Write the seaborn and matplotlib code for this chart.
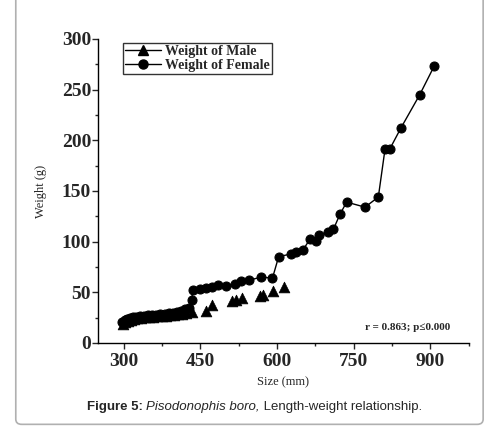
import matplotlib
matplotlib.use('Agg')
import matplotlib.pyplot as plt
from matplotlib.lines import Line2D
from matplotlib.patches import FancyBboxPatch
from matplotlib.ticker import MultipleLocator
import seaborn as sns

# length (mm) and weight (g)
female_size = [297, 302, 307, 312, 318, 325, 332, 340, 348, 356, 364, 372, 380, 388, 396,
               404, 412, 420, 428, 433, 435, 449, 461, 472, 485, 500, 517, 530, 546, 569,
               591, 603, 628, 637, 651, 665, 676, 681, 699, 710, 723, 736, 772, 798, 811,
               820, 842, 879, 907]
female_weight = [21, 23, 24, 25, 25.5, 26, 26.5, 27, 27.5, 28, 28, 28.5, 29, 29.5, 30,
                 31, 32, 33, 34, 42, 52, 53, 54, 55, 57, 56, 58, 61, 62, 65,
                 64, 85, 88, 90, 92, 103, 101, 107, 109, 112, 127, 139, 134, 144, 191,
                 191, 212, 245, 273]

male_size = [298, 303, 308, 314, 320, 327, 334, 342, 350, 358, 366, 374, 382, 390, 398,
             406, 414, 422, 433, 461, 473, 511, 520, 532, 566, 572, 592, 614]
male_weight = [19, 21, 22, 23, 24, 24.5, 25, 25.5, 26, 26, 26.5, 27, 27, 27.5, 28,
               28.5, 29, 29.5, 31, 32, 37, 41, 42, 44, 46, 47, 51, 55]

x_ticks = [300, 450, 600, 750, 900]
y_ticks = [0, 50, 100, 150, 200, 250, 300]

sns.set_style('ticks')
plt.rcParams['font.family'] = ['Liberation Serif', 'DejaVu Serif']

fig = plt.figure(figsize=(4.93, 4.33), dpi=100)
ax = fig.add_axes([0.199, 0.208, 0.752, 0.702])

sns.lineplot(x=female_size, y=female_weight, ax=ax, color='black', linewidth=1.0,
             marker='o', markersize=6.5, markeredgecolor='black', markerfacecolor='black')
sns.scatterplot(x=male_size, y=male_weight, ax=ax, color='black', marker='^', s=60,
                edgecolor='black', linewidth=0.5, zorder=3)

ax.set_xlim(250, 975)
ax.set_ylim(0, 300)
ax.set_xticks(x_ticks)
ax.set_yticks(y_ticks)
ax.xaxis.set_minor_locator(MultipleLocator(75))
ax.yaxis.set_minor_locator(MultipleLocator(25))
ax.tick_params(which='major', direction='out', length=4, width=1, labelsize=14, pad=1)
ax.tick_params(axis='x', which='major', pad=3)
ax.tick_params(which='minor', direction='out', length=2.5, width=1)
for lab in ax.get_xticklabels() + ax.get_yticklabels():
    lab.set_fontweight('bold')
sns.despine(ax=ax)
for sp in ax.spines.values():
    sp.set_linewidth(1.0)
    sp.set_color('black')

ax.set_xlabel('Size (mm)', fontsize=9, labelpad=5)
ax.set_ylabel('Weight (g)', fontsize=9, labelpad=11)

handles = [Line2D([], [], color='black', marker='^', markersize=7, linewidth=1),
           Line2D([], [], color='black', marker='o', markersize=6.5, linewidth=1)]
leg = ax.legend(handles, ['Weight of Male', 'Weight of Female'], loc='upper left',
                bbox_to_anchor=(0.06, 0.995), frameon=True, fancybox=False,
                prop={'weight': 'bold', 'size': 10}, handlelength=2.6,
                handletextpad=0.3, borderpad=0.15, labelspacing=0.05,
                borderaxespad=0.2)
leg.get_frame().set_edgecolor('black')
leg.get_frame().set_linewidth(1.0)

ax.text(0.949, 0.05, 'r = 0.863; p\u22640.000', transform=ax.transAxes, ha='right',
        va='center', fontsize=8, fontweight='bold')

# caption built from three pieces, placed one after the other
fig.canvas.draw()
renderer = fig.canvas.get_renderer()
x_px = 87
cap_y = 433 - 407
pieces = [('Figure 5: ', {'fontweight': 'bold'}),
          ('Pisodonophis boro,', {'style': 'italic'}),
          (' Length-weight relationship.', {})]
for txt, kw in pieces:
    t = fig.text(x_px / 493, cap_y / 433, txt, ha='left', va='center', fontsize=9.5,
                 family='Liberation Sans', **kw)
    x_px += t.get_window_extent(renderer).width

border = FancyBboxPatch((0.032, 0.02), 0.948, 1.1, boxstyle='round,pad=0,rounding_size=0.012',
                        transform=fig.transFigure, facecolor='none', edgecolor='#b0b0b0',
                        linewidth=1.2, clip_on=False)
fig.patches.append(border)

fig.savefig('out.png', dpi=100)
